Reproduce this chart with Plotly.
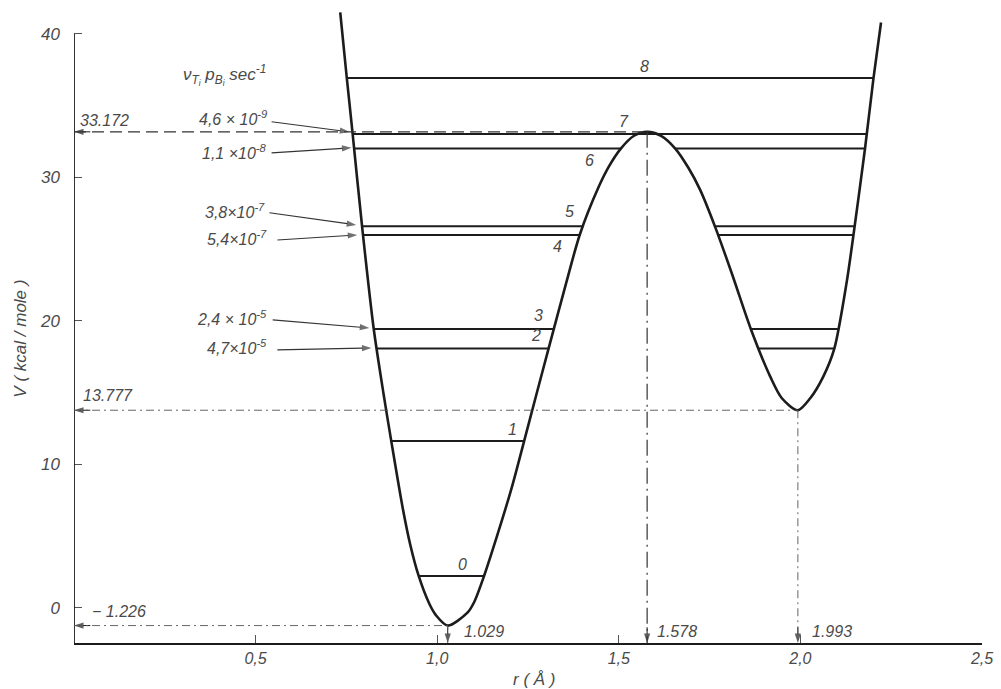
import numpy as np
import plotly.graph_objects as go

# ---------------- data ----------------
# digitised potential curve V(r)
curve_r = [0.733, 0.751, 0.767, 0.793, 0.825, 0.852, 0.873, 0.905, 0.926, 0.949,
           0.978, 0.9964, 1.029, 1.0833, 1.1016, 1.129, 1.170, 1.206, 1.239, 1.274,
           1.307, 1.355, 1.393, 1.445, 1.4725, 1.505, 1.542, 1.578, 1.6165, 1.656,
           1.692, 1.724, 1.766, 1.811, 1.8645, 1.917, 1.949, 1.993, 2.027, 2.063,
           2.093, 2.127, 2.146, 2.178, 2.201, 2.222]
curve_V = [41.5, 36.95, 33.08, 26.62, 19.49, 14.96, 11.71, 6.97, 4.39, 2.23,
           0.31, -0.5, -1.226, -0.33, 0.4, 2.23, 5.44, 8.45, 11.59, 14.96,
           18.10, 22.63, 26.04, 29.36, 30.75, 31.99, 32.90, 33.172, 32.89, 31.99,
           30.65, 29.13, 26.50, 23.32, 19.37, 16.12, 14.61, 13.777, 14.61, 16.12,
           18.03, 22.63, 25.97, 32.03, 36.86, 40.79]

# special points
r_min1, V_min1 = 1.029, -1.226
r_barrier, V_barrier = 1.578, 33.172
r_min2, V_min2 = 1.993, 13.777

# vibrational levels
level_number = ["0", "1", "2", "3", "4", "5", "6", "7", "8"]
level_V = [2.23, 11.64, 18.08, 19.44, 25.99, 26.59, 32.02, 33.03, 36.93]
level_spans_barrier = [False, False, False, False, False, False, False, True, True]
level_label_r = [1.069, 1.206, 1.272, 1.280, 1.330, 1.363, 1.418, 1.514, 1.571]
level_label_V = [3.0, 12.4, 18.95, 20.35, 25.16, 27.6, 31.2, 33.87, 37.7]

# tunnelling rates
rate_text = ["4,6 × 10<sup>-9</sup>", "1,1 ×10<sup>-8</sup>", "3,8×10<sup>-7</sup>",
             "5,4×10<sup>-7</sup>", "2,4 × 10<sup>-5</sup>", "4,7×10<sup>-5</sup>"]
rate_text_r = [0.538, 0.538, 0.530, 0.538, 0.538, 0.538]
rate_text_V = [34.15, 31.78, 27.67, 25.78, 20.21, 18.19]
rate_tail_r = [0.544, 0.544, 0.538, 0.560, 0.547, 0.560]
rate_tail_V = [33.87, 31.71, 27.53, 25.64, 20.07, 17.98]
rate_head_r = [0.758, 0.764, 0.777, 0.780, 0.813, 0.819]
rate_head_V = [33.17, 32.06, 26.69, 25.99, 19.51, 18.12]

x_tickvals = [0.5, 1.0, 1.5, 2.0, 2.5]
x_ticktext = ["0,5", "1,0", "1,5", "2,0", "2,5"]
y_tickvals = [0, 10, 20, 30, 40]
y_ticktext = ["0", "10", "20", "30", "40"]

X_RANGE = [0, 2.5]
Y_RANGE = [-2.44, 41.8]

# ---------------- styling ----------------
INK = "#1c1c1c"
TXT = "#4a4a4a"
FONT = "Liberation Sans"

fig = go.Figure()

# potential curve
fig.add_trace(go.Scatter(x=curve_r, y=curve_V, mode="lines",
                         line=dict(color=INK, width=2.6, shape="spline", smoothing=0.8),
                         hoverinfo="skip", showlegend=False))

# level segments from intersections with the curve
cr = np.array(curve_r)
cv = np.array(curve_V)
i1 = int(np.argmin(np.abs(cr - r_min1)))
ib = int(np.argmin(np.abs(cr - r_barrier)))
i2 = int(np.argmin(np.abs(cr - r_min2)))
seg0 = (cv[:i1 + 1][::-1], cr[:i1 + 1][::-1])
seg1 = (cv[i1:ib + 1], cr[i1:ib + 1])
seg2 = (cv[ib:i2 + 1][::-1], cr[ib:i2 + 1][::-1])
seg3 = (cv[i2:], cr[i2:])

lx, ly = [], []
for E, span in zip(level_V, level_spans_barrier):
    a = np.interp(E, *seg0)
    if span:
        d = np.interp(E, *seg3)
        lx += [a, d, None]
        ly += [E, E, None]
    else:
        b = np.interp(E, *seg1)
        lx += [a, b, None]
        ly += [E, E, None]
        if E > V_min2:
            c = np.interp(E, *seg2)
            d = np.interp(E, *seg3)
            lx += [c, d, None]
            ly += [E, E, None]
fig.add_trace(go.Scatter(x=lx, y=ly, mode="lines", line=dict(color=INK, width=2.0),
                         hoverinfo="skip", showlegend=False))


def add_arrow(x0, y0, x1, y1, color="#333", width=1.1, size=10):
    fig.add_trace(go.Scatter(
        x=[x0, x1], y=[y0, y1], mode="lines+markers",
        line=dict(color=color, width=width),
        marker=dict(symbol="arrow", angleref="previous", size=[0, size], color=color,
                    line=dict(width=0)),
        hoverinfo="skip", showlegend=False, cliponaxis=False))


shapes = []
# y axis line (only up to 40)
shapes.append(dict(type="line", xref="x", yref="y", x0=0, x1=0, y0=Y_RANGE[0], y1=40,
                   line=dict(color=INK, width=1.8)))
# dashed construction lines
shapes.append(dict(type="line", xref="x", yref="y", x0=0, x1=r_barrier, y0=V_barrier, y1=V_barrier,
                   line=dict(color="#333", width=1.3, dash="12px,6px")))
shapes.append(dict(type="line", xref="x", yref="y", x0=r_barrier, x1=r_barrier, y0=V_barrier,
                   y1=Y_RANGE[0], line=dict(color="#333", width=1.2, dash="16px,5px,2px,5px")))
shapes.append(dict(type="line", xref="x", yref="y", x0=0, x1=r_min2, y0=V_min2, y1=V_min2,
                   line=dict(color="#555", width=0.9, dash="8px,4px,2px,4px")))
shapes.append(dict(type="line", xref="x", yref="y", x0=r_min2, x1=r_min2, y0=V_min2,
                   y1=Y_RANGE[0], line=dict(color="#555", width=0.9, dash="8px,4px,2px,4px")))
shapes.append(dict(type="line", xref="x", yref="y", x0=0, x1=r_min1, y0=V_min1, y1=V_min1,
                   line=dict(color="#555", width=0.9, dash="8px,4px,2px,4px")))
shapes.append(dict(type="line", xref="x", yref="y", x0=r_min1, x1=r_min1, y0=V_min1,
                   y1=Y_RANGE[0], line=dict(color="#555", width=0.9, dash="4px,3px")))

# arrows onto the axes
for yv in [V_barrier, V_min2, V_min1]:
    add_arrow(0.045, yv, 0.0, yv, color=INK, width=1.0, size=10)
for xv in [r_min1, r_barrier, r_min2]:
    add_arrow(xv, Y_RANGE[0] + 1.1, xv, Y_RANGE[0], color=INK, width=1.0, size=10)

# rate arrows
for ax, ay, hx, hy in zip(rate_tail_r, rate_tail_V, rate_head_r, rate_head_V):
    add_arrow(ax, ay, hx, hy, color="#333", width=1.1, size=10)

ann = []
base_font = dict(family=FONT, size=16, color=TXT, style="italic")

# value labels
for (x, y, t) in [(0.012, V_barrier + 0.78, "33.172"),
                  (0.020, V_min2 + 1.06, "13.777"),
                  (0.045, V_min1 + 0.95, "− 1.226"),
                  (r_min1 + 0.04, Y_RANGE[0] + 0.77, "1.029"),
                  (r_barrier + 0.022, Y_RANGE[0] + 0.77, "1.578"),
                  (r_min2 + 0.034, Y_RANGE[0] + 0.77, "1.993")]:
    ann.append(dict(x=x, y=y, xref="x", yref="y", text=t, showarrow=False,
                    xanchor="left", yanchor="middle", font=base_font))

# level numbers
for t, x, y in zip(level_number, level_label_r, level_label_V):
    ann.append(dict(x=x, y=y, xref="x", yref="y", text=t, showarrow=False,
                    xanchor="center", yanchor="middle", font=base_font))

# rate labels
for t, tx, ty in zip(rate_text, rate_text_r, rate_text_V):
    ann.append(dict(x=tx, y=ty, xref="x", yref="y", text=t, showarrow=False,
                    xanchor="right", yanchor="middle", font=base_font))

# header of rate column
ann.append(dict(x=0.415, y=37.14, xref="x", yref="y",
                text="ν<sub>T<sub>i</sub></sub> p<sub>B<sub>i</sub></sub> sec<sup>-1</sup>",
                showarrow=False, xanchor="center", yanchor="middle",
                font=dict(family=FONT, size=17, color=TXT, style="italic")))

# axis titles (paper coordinates, outside the plotting area)
ann.append(dict(x=-0.059, y=0.48, xref="paper", yref="paper", text="V ( kcal / mole )",
                textangle=-90, showarrow=False, xanchor="center", yanchor="middle",
                font=dict(family=FONT, size=17, color=TXT, style="italic")))
ann.append(dict(x=0.507, y=-0.058, xref="paper", yref="paper", text="r ( Å )",
                showarrow=False, xanchor="center", yanchor="middle",
                font=dict(family=FONT, size=17, color=TXT, style="italic")))

fig.update_layout(
    width=1001, height=689,
    margin=dict(l=74, r=14, t=8, b=46),
    paper_bgcolor="white", plot_bgcolor="white",
    shapes=shapes, annotations=ann,
    showlegend=False,
    xaxis=dict(range=X_RANGE, showgrid=False, zeroline=False, showline=True,
               linecolor=INK, linewidth=1.8, ticks="inside", ticklen=8, tickwidth=1,
               tickcolor="#555", tickvals=x_tickvals, ticktext=x_ticktext,
               tickfont=dict(family=FONT, size=16, color=TXT, style="italic")),
    yaxis=dict(range=Y_RANGE, showgrid=False, zeroline=False, showline=False,
               ticks="inside", ticklen=8, tickwidth=1, tickcolor="#555",
               tickvals=y_tickvals, ticktext=y_ticktext, ticklabelstandoff=13,
               tickfont=dict(family=FONT, size=17, color=TXT, style="italic")),
)

fig.write_html("out.html", config={"displayModeBar": False},
               post_script="document.body.style.margin='0px';")
